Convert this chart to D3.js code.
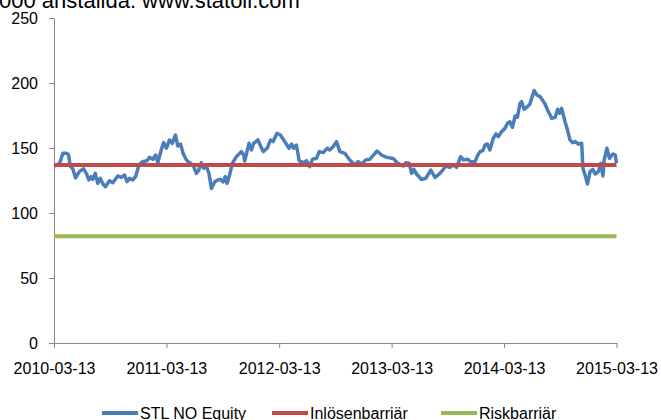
<!DOCTYPE html>
<html>
<head>
    <meta charset="UTF-8">
    <title>STL NO Equity</title>
    <script src="https://d3js.org/d3.v7.min.js"></script>
    <style>
        body { margin: 0; background: #fff; }
        svg { display: block; font-family: "Liberation Sans", Arial, sans-serif; }
        .axis path, .axis line { stroke: #868686; stroke-width: 1px; }
        .axis text { fill: #000; font-size: 16px; }
        .legend text { font-size: 16px; fill: #000; }
    </style>
</head>
<body>
    <svg width="661" height="420"></svg>
    <script>

        // days after 2010-03-13
        var dayOffsets = [
            0, 18, 29, 40, 47, 53, 61, 70, 83, 96,
            105, 113, 121, 126, 134, 142, 150, 159, 167, 180,
            191, 207, 218, 229, 237, 245, 256, 265, 276, 287,
            302, 310, 321, 330, 337, 348, 356, 365, 375, 384,
            394, 402, 411, 419, 430, 440, 451, 462, 470, 478,
            486, 495, 503, 511, 522, 532, 540, 549, 556, 562,
            570, 579, 592, 608, 616, 619, 633, 641, 648, 662,
            679, 692, 703, 711, 724, 735, 749, 763, 771, 778,
            787, 796, 809, 820, 830, 839, 852, 861, 874, 887,
            895, 906, 917, 928, 944, 960, 977, 987, 998, 1012,
            1025, 1034, 1049, 1063, 1080, 1101, 1114, 1123, 1134, 1142,
            1153, 1161, 1168, 1177, 1193, 1207, 1223, 1237, 1253, 1264,
            1272, 1285, 1296, 1307, 1320, 1329, 1342, 1353, 1367, 1374,
            1383, 1392, 1399, 1407, 1415, 1426, 1435, 1442, 1453, 1464,
            1472, 1480, 1488, 1497, 1504, 1513, 1518, 1526, 1537, 1545,
            1554, 1559, 1567, 1578, 1587, 1594, 1605, 1616, 1627, 1635,
            1641, 1648, 1659, 1667, 1675, 1684, 1692, 1702, 1713, 1717,
            1724, 1732, 1740, 1749, 1757, 1767, 1775, 1782, 1786, 1795,
            1803, 1814, 1822, 1826
        ];

        var stlValues = [
            136, 138, 146, 146, 145, 136, 134, 127, 132, 134,
            130.5, 125.4, 128, 125.8, 130.5, 122.8, 126.7, 122.3, 120.2, 124.8,
            123.3, 128.5, 127.4, 129.2, 124.1, 126.7, 125.4, 128, 137, 139.5,
            140.2, 142.8, 141.3, 144.6, 138.7, 148.5, 154.1, 149.8, 156.2, 153.6,
            160, 151.5, 153, 145.9, 140.8, 138.7, 137, 130.5, 133, 138.7,
            134.4, 135.6, 130.5, 118.9, 124, 125.4, 125.8, 124, 128, 122.8,
            129.2, 138.2, 143.3, 147.2, 144.6, 140, 153.6, 148.5, 153.6, 156.2,
            147.2, 149.8, 156.2, 154.9, 161.3, 160, 154.9, 149.8, 153, 149.8,
            152.3, 140.2, 138.7, 140.2, 135.6, 141.3, 142, 147.2, 146.4, 149.8,
            148.5, 151, 154.9, 147.2, 145.9, 140.8, 137, 139.5, 137.7, 140.8,
            141.3, 143.8, 147.7, 144.6, 142.8, 142, 138.7, 137.5, 136.2, 138.7,
            138.2, 130.5, 133.6, 130, 125.8, 126.7, 133, 127.4, 130.5, 133.6,
            136.2, 135.1, 137, 135.1, 143.3, 140.8, 141.3, 139.5, 139.5, 143.8,
            147.2, 148, 152.3, 153, 148.5, 157.4, 160.8, 158.7, 162.6, 165.1,
            169, 170.2, 165.9, 174.6, 173.6, 184.4, 185.6, 179.8, 181.8, 183.8,
            190.8, 194.1, 190.8, 189.5, 186.4, 183.8, 177.9, 172.8, 173.6, 179.8,
            176.8, 180.5, 170.2, 163.8, 156.2, 154.1, 154.9, 153, 153.6, 134.4,
            129.2, 122.3, 131.8, 133.6, 130, 131.8, 138.2, 128.5, 140.8, 149.8,
            142, 145.4, 144.6, 138.2
        ];

        var inlosenBarrier = 137;
        var riskBarrier = 82.2;

        var tickDates = ["2010-03-13", "2011-03-13", "2012-03-13", "2013-03-13", "2014-03-13", "2015-03-13"];
        var yTicks = [0, 50, 100, 150, 200, 250];

        var seriesNames = ["STL NO Equity", "Inlösenbarriär", "Riskbarriär"];
        var seriesColors = ["#4a7ebb", "#be4b48", "#98b954"];

        var parse = d3.timeParse("%Y-%m-%d");
        var startDate = parse(tickDates[0]);
        var endDate = parse(tickDates[tickDates.length - 1]);

        var stl = dayOffsets.map(function(d, i) {
            return { date: d3.timeDay.offset(startDate, d), value: stlValues[i] };
        });

        var svg = d3.select("svg");

        // clipped text line above the chart
        svg.append("text")
            .attr("x", -1)
            .attr("y", 8)
            .style("font-size", "22px")
            .style("fill", "#000")
            .text("000 anställda. www.statoil.com");

        var x = d3.scaleTime().domain([startDate, endDate]).range([54, 616.5]);
        var y = d3.scaleLinear().domain([0, 250]).range([343, 18]);

        var xAxis = svg.append("g")
            .attr("class", "axis")
            .attr("transform", "translate(0,343)")
            .call(d3.axisBottom(x)
                .tickValues(tickDates.map(parse))
                .tickFormat(d3.timeFormat("%Y-%m-%d"))
                .tickSize(5)
                .tickSizeOuter(0)
                .tickPadding(15));

        var yAxis = svg.append("g")
            .attr("class", "axis")
            .attr("transform", "translate(54,0)")
            .call(d3.axisLeft(y)
                .tickValues(yTicks)
                .tickSize(5)
                .tickSizeOuter(0)
                .tickPadding(11));

        var line = d3.line()
            .x(function(d) { return x(d.date); })
            .y(function(d) { return y(d.value); });

        svg.append("path")
            .datum(stl)
            .attr("fill", "none")
            .attr("stroke", seriesColors[0])
            .attr("stroke-width", 3.5)
            .attr("stroke-linejoin", "round")
            .attr("d", line);

        var barriers = [inlosenBarrier, riskBarrier];
        svg.selectAll(".barrier")
            .data(barriers)
            .enter().append("path")
            .attr("class", "barrier")
            .attr("fill", "none")
            .attr("stroke", function(d, i) { return seriesColors[i + 1]; })
            .attr("stroke-width", 4)
            .attr("d", function(d) {
                return line([{ date: startDate, value: d }, { date: endDate, value: d }]);
            });

        // legend
        var legendX = [102, 272, 441];
        var legend = svg.append("g").attr("class", "legend");
        var item = legend.selectAll("g")
            .data(seriesNames)
            .enter().append("g")
            .attr("transform", function(d, i) { return "translate(" + legendX[i] + ",413)"; });

        item.append("line")
            .attr("x1", 0).attr("x2", 36)
            .attr("stroke", function(d, i) { return seriesColors[i]; })
            .attr("stroke-width", 4);

        item.append("text")
            .attr("x", 38)
            .attr("y", 5.5)
            .text(function(d) { return d; });

    </script>
</body>
</html>
